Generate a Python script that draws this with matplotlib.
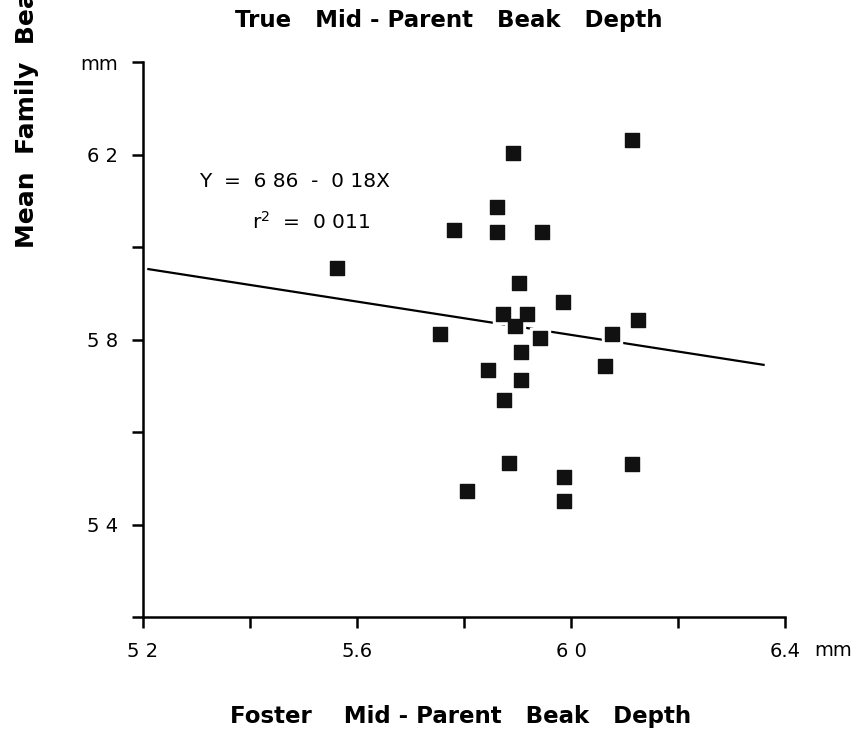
import numpy as np
import matplotlib.pyplot as plt

# foster mid-parent beak depth (x) vs mean family beak depth (y), mm
foster_x = [5.892, 6.114, 5.862, 5.781, 5.862, 5.946,
            5.903, 5.985, 5.873, 5.918, 5.895, 5.755, 5.942, 6.077,
            6.125, 5.907, 6.064, 5.845, 5.907, 5.875,
            5.884, 6.114, 5.987, 5.806, 5.987, 5.563]
family_y = [6.203, 6.231, 6.086, 6.037, 6.032, 6.032,
            5.922, 5.881, 5.855, 5.855, 5.829, 5.812, 5.803, 5.812,
            5.842, 5.773, 5.743, 5.734, 5.712, 5.669,
            5.533, 5.531, 5.503, 5.472, 5.451, 5.955]

# regression line as drawn
line_a = 6.89
line_b = -0.18
line_x = [5.21, 6.36]

x_ticks = [5.2, 5.4, 5.6, 5.8, 6.0, 6.2, 6.4]
x_labels = ["5 2", "", "5.6", "", "6 0", "", "6.4"]
y_ticks = [5.2, 5.4, 5.6, 5.8, 6.0, 6.2, 6.4]
y_labels = ["", "5 4", "", "5 8", "", "6 2", "mm"]

fig = plt.figure(figsize=(8.58, 7.29), dpi=100)
ax = fig.add_axes([143 / 858, 1 - 617 / 729, 642 / 858, 555 / 729])

lx = np.array(line_x)
ax.plot(lx, line_a + line_b * lx, color='black', linewidth=1.6, zorder=1)

# white halo round the squares, then the squares
ax.scatter(foster_x, family_y, marker='s', s=190, color='white', zorder=2)
ax.scatter(foster_x, family_y, marker='s', s=110, color='#111111', zorder=3)

ax.set_xlim(5.2, 6.4)
ax.set_ylim(5.2, 6.4)
ax.spines['top'].set_visible(False)
ax.spines['right'].set_visible(False)
ax.spines['left'].set_linewidth(1.8)
ax.spines['bottom'].set_linewidth(1.8)
ax.set_xticks(x_ticks)
ax.set_xticklabels(x_labels)
ax.set_yticks(y_ticks)
ax.set_yticklabels(y_labels)
ax.tick_params(direction='out', length=8, width=1.8, labelsize=14, pad=10)

# "mm" after the last x tick label
ax.annotate("mm", xy=(6.4, 5.2), xytext=(21, -24), textcoords='offset points',
            fontsize=14, ha='left', va='center')

ax.text(5.484, 6.141, "Y  =  6 86  -  0 18X", fontsize=14.5, ha='center', va='center')
ax.text(5.514, 6.054, r"$\mathsf{r}^{\mathsf{2}}$  =  0 011", fontsize=14.5,
        ha='center', va='center')

fig.text(449 / 858, 1 - 21 / 729, "True   Mid - Parent   Beak   Depth",
         fontsize=16.5, fontweight='heavy', ha='center', va='center')
fig.text(461 / 858, 1 - 716 / 729, "Foster    Mid - Parent   Beak   Depth",
         fontsize=16.5, fontweight='heavy', ha='center', va='center')
fig.text(27 / 858, 1 - 248 / 729, "Mean  Family  Beak  Depth", rotation=90,
         fontsize=18, fontweight='heavy', ha='center', va='bottom')

fig.savefig("out.png", dpi=100)
